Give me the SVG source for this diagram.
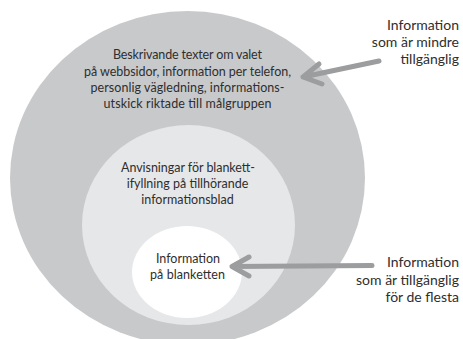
<svg xmlns="http://www.w3.org/2000/svg" width="463" height="339" viewBox="0 0 463 339">
<style>
.t{font-family:Lato,"Open Sans","DejaVu Sans",sans-serif;font-size:12.5px;fill:#2e2e2e;text-anchor:middle}
.l{font-family:Lato,"Open Sans","DejaVu Sans",sans-serif;font-size:14px;fill:#2e2e2e;text-anchor:end}
.a{fill:none;stroke:#9c9d9f;stroke-width:5;stroke-linecap:round;stroke-linejoin:round}
</style>
<rect width="463" height="339" fill="#ffffff"/>
<g id="outer">
<ellipse cx="187.5" cy="178" rx="177.5" ry="167" fill="#c8c9cb"/>
<text class="t" x="187.5" y="59" textLength="149">Beskrivande texter om valet</text>
<text class="t" x="187.5" y="75.5" textLength="207">på webbsidor, information per telefon,</text>
<text class="t" x="187.5" y="91.5" textLength="194">personlig vägledning, informations-</text>
<text class="t" x="187.5" y="108" textLength="168">utskick riktade till målgruppen</text>
</g>
<g id="middle">
<ellipse cx="188.5" cy="225" rx="106.5" ry="100" fill="#e6e7e9"/>
<text class="t" x="188" y="172" textLength="134">Anvisningar för blankett-</text>
<text class="t" x="187.5" y="188">ifyllning på tillhörande</text>
<text class="t" x="187.5" y="204">informationsblad</text>
</g>
<g id="inner">
<ellipse cx="187" cy="272" rx="55" ry="46" fill="#ffffff"/>
<text class="t" x="188" y="262.5" textLength="64">Information</text>
<text class="t" x="187.5" y="278.5" textLength="75">på blanketten</text>
</g>
<g id="label-top">
<text class="l" x="459" y="30">Information</text>
<text class="l" x="459" y="47">som är mindre</text>
<text class="l" x="459" y="63.5">tillgänglig</text>
</g>
<g id="label-bottom">
<text class="l" x="459" y="267">Information</text>
<text class="l" x="459" y="285">som är tillgänglig</text>
<text class="l" x="459" y="302">för de flesta</text>
</g>
<g id="connectors">
<path class="a" d="M379,61 L303,77 M319,64 L303,77 L322,84"/>
<path class="a" d="M372,265.5 L232,266.5 M249,257 L232,266.5 L249,276"/>
</g>
</svg>
